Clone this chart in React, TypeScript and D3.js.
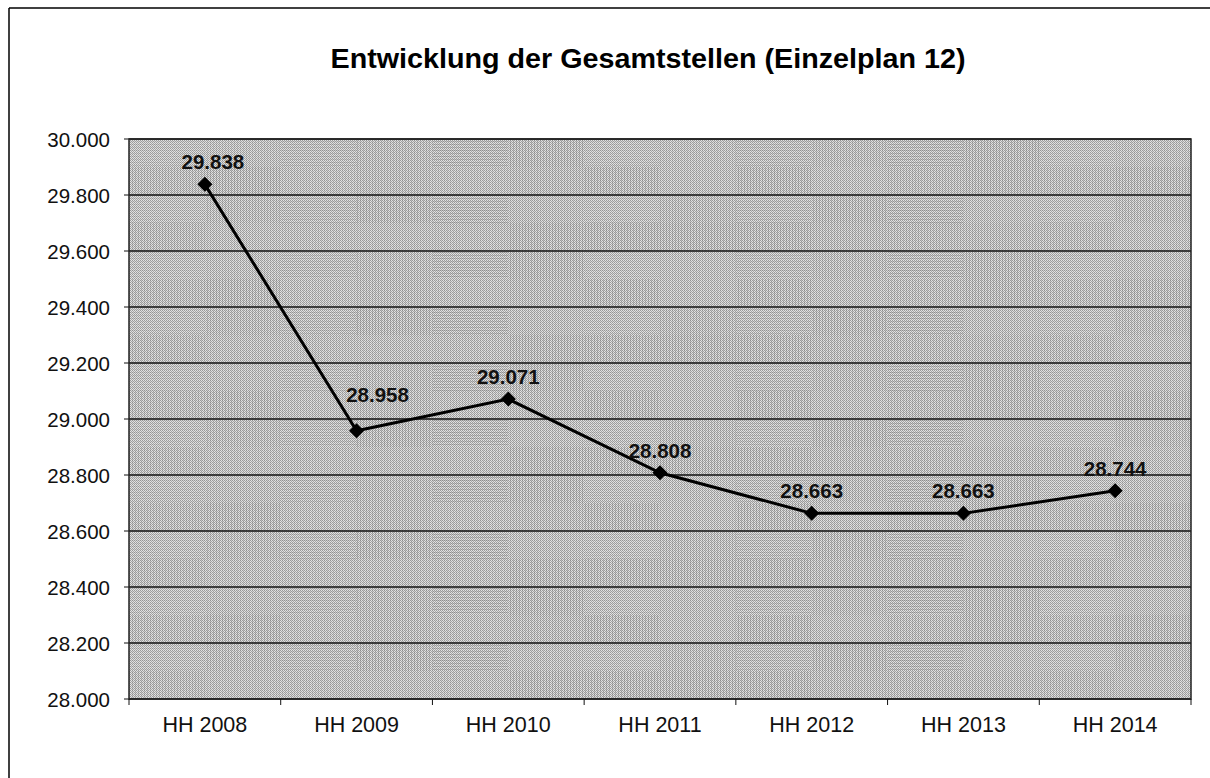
import React from "react";
import * as d3 from "d3";

const categories = ["HH 2008", "HH 2009", "HH 2010", "HH 2011", "HH 2012", "HH 2013", "HH 2014"];
const values = [29838, 28958, 29071, 28808, 28663, 28663, 28744];
const yTicks = [28000, 28200, 28400, 28600, 28800, 29000, 29200, 29400, 29600, 29800, 30000];
const title = "Entwicklung der Gesamtstellen (Einzelplan 12)";

const fmt = (v: number) => d3.format(",.0f")(v).replace(/,/g, ".");

export default function App() {
  const W = 1210, H = 778;
  const left = 129, right = 1191, top = 139, bottom = 699;
  const x = d3.scaleBand<string>().domain(categories).range([left, right]).padding(0);
  const y = d3.scaleLinear().domain([28000, 30000]).range([bottom, top]);
  const cx = (c: string) => (x(c) as number) + x.bandwidth() / 2;
  const line = d3.line<number>().x((_, i) => cx(categories[i])).y((d) => y(d));
  const labelDx: Record<number, number> = { 0: 8, 1: 21 };
  const labelDy: Record<number, number> = { 1: -29 };
  const font = "'Liberation Sans', Arial, sans-serif";
  const boundaries = d3.range(categories.length + 1).map((i) => left + i * x.bandwidth());
  // texture cells (half-category x half-gridline) for a mottled look
  const cols = d3.range(categories.length * 2);
  const rows = d3.range((yTicks.length - 1) * 2);
  const cw = (right - left) / cols.length;
  const rh = (bottom - top) / rows.length;
  return (
    <svg width={W} height={H} style={{ position: "absolute", left: 0, top: 0, background: "#fff" }}>
      <defs>
        <pattern id="dither" width="2" height="2" patternUnits="userSpaceOnUse">
          <rect width="2" height="2" fill="#e2e2e2" />
          <rect width="1" height="1" fill="#9a9a9a" />
          <rect x="1" y="1" width="1" height="1" fill="#a6a6a6" />
        </pattern>
        <pattern id="vlines" width="3" height="1" patternUnits="userSpaceOnUse">
          <rect width="1" height="1" fill="#666" opacity="0.3" />
        </pattern>
        <pattern id="hlines" width="1" height="3" patternUnits="userSpaceOnUse">
          <rect width="1" height="1" fill="#666" opacity="0.3" />
        </pattern>
      </defs>
      {/* outer frame */}
      <line x1={9} y1={8} x2={W} y2={8} stroke="#000" strokeWidth={1.5} />
      <line x1={9} y1={8} x2={9} y2={H} stroke="#000" strokeWidth={1.5} />
      <text x={648} y={68} textAnchor="middle" fontFamily={font} fontWeight="bold" fontSize={27}
        textLength={635} lengthAdjust="spacingAndGlyphs">
        {title}
      </text>
      {/* plot area */}
      <rect x={left} y={top} width={right - left} height={bottom - top} fill="url(#dither)" />
      {cols.map((i) =>
        rows.map((j) => {
          const k = (i * 7 + j * 3 + ((i * j) % 4)) % 6;
          return (
            <rect key={`${i}-${j}`} x={left + i * cw} y={top + j * rh} width={cw} height={rh}
              fill={k % 2 ? "url(#vlines)" : "url(#hlines)"} opacity={0.4 + k * 0.12} />
          );
        })
      )}
      {yTicks.map((t) => (
        <g key={t}>
          <line x1={left} x2={right} y1={y(t)} y2={y(t)} stroke="#111" strokeWidth={1.3} />
          <line x1={left - 5} x2={left} y1={y(t)} y2={y(t)} stroke="#111" strokeWidth={1} />
          <text x={110} y={y(t) + 8} textAnchor="end" fontFamily={font} fontSize={20.5} fill="#111">
            {fmt(t)}
          </text>
        </g>
      ))}
      <rect x={left} y={top} width={right - left} height={bottom - top} fill="none" stroke="#222" strokeWidth={1.5} />
      {boundaries.map((b, i) => (
        <line key={i} x1={b} x2={b} y1={bottom} y2={bottom + 6} stroke="#111" strokeWidth={1} />
      ))}
      {categories.map((c) => (
        <text key={c} x={cx(c)} y={732} textAnchor="middle" fontFamily={font} fontSize={21.5} fill="#111">
          {c}
        </text>
      ))}
      <path d={line(values) as string} fill="none" stroke="#000" strokeWidth={3} />
      {values.map((v, i) => {
        const px = cx(categories[i]);
        const py = y(v);
        return (
          <g key={i}>
            <path d={`M${px},${py - 7.5}L${px + 7.5},${py}L${px},${py + 7.5}L${px - 7.5},${py}Z`} fill="#000" />
            <text x={px + (labelDx[i] ?? 0)} y={py + (labelDy[i] ?? -15)} textAnchor="middle"
              fontFamily={font} fontWeight="bold" fontSize={20.5} fill="#111">
              {fmt(v)}
            </text>
          </g>
        );
      })}
    </svg>
  );
}
